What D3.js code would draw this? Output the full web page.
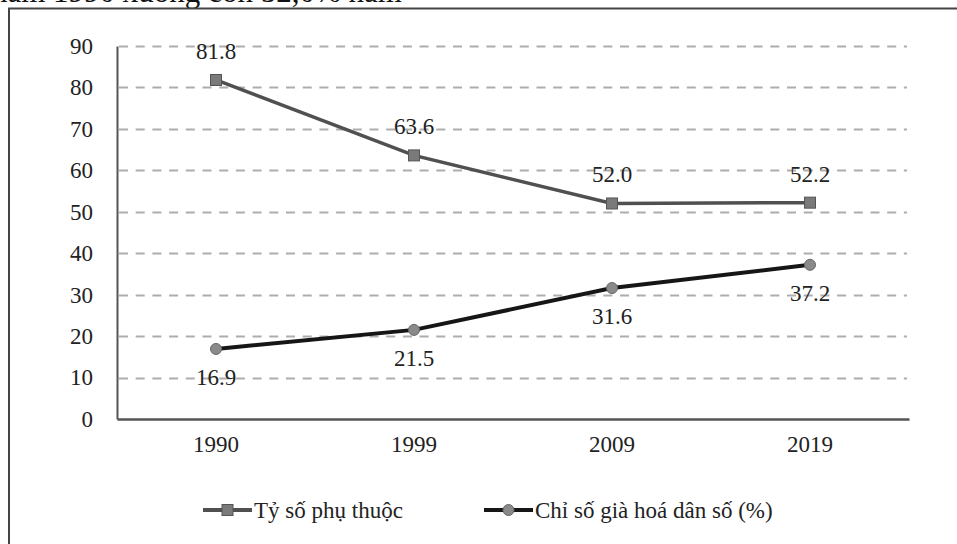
<!DOCTYPE html>
<html>
<head>
<meta charset="utf-8">
<script src="https://cdn.jsdelivr.net/npm/d3@7"></script>
<style>
  body { margin: 0; background: #fff; overflow: hidden; }
</style>
</head>
<body>
<script>
// data
let years = ["1990", "1999", "2009", "2019"];
let tySoPhuThuoc = [81.8, 63.6, 52.0, 52.2];
let chiSoGiaHoa = [16.9, 21.5, 31.6, 37.2];
let yTicks = [0, 10, 20, 30, 40, 50, 60, 70, 80, 90];
let seriesNames = ["Tỷ số phụ thuộc", "Chỉ số già hoá dân số (%)"];

let serif = "Liberation Serif, 'Times New Roman', 'DejaVu Serif', serif";
let fs = 23;

let svg = d3.select("body").append("svg")
	.attr("width", 957)
	.attr("height", 544)
	.attr("font-family", serif);

//clipped line of text from the page above the figure
svg.append("text")
	.attr("x", -8)
	.attr("y", 2)
	.attr("font-size", 31)
	.attr("font-family", serif)
	.attr("fill", "#111")
	.text("năm 1990 xuống còn 52,0% năm");

//outer frame
svg.append("path")
	.attr("d", "M9,560 V8.5 H970")
	.attr("fill", "none")
	.attr("stroke", "#444")
	.attr("stroke-width", 2);

let margin = { top: 46, left: 117 };
let innerWidth = 909 - 117;
let innerHeight = 419 - 46;

let g = svg.append("g")
	.attr("transform", `translate(${margin.left}, ${margin.top})`);

let x = d3.scaleBand()
	.domain(years)
	.range([0, innerWidth]);

let y = d3.scaleLinear()
	.domain([0, 90])
	.range([innerHeight, 0]);

//dashed grid
g.selectAll(".grid")
	.data(yTicks.filter(d => d > 0))
	.enter().append("line")
	.attr("class", "grid")
	.attr("x1", 2)
	.attr("x2", innerWidth - 2)
	.attr("y1", d => Math.round(y(d)) + 0.5)
	.attr("y2", d => Math.round(y(d)) + 0.5)
	.attr("stroke", "#adadad")
	.attr("stroke-width", 2)
	.attr("stroke-dasharray", "9,7.7");

//y axis
let yG = g.append("g")
	.call(d3.axisLeft(y).tickValues(yTicks).tickSize(0).tickPadding(24))
	.attr("font-family", serif)
	.attr("font-size", fs);
yG.select(".domain").attr("stroke", "#555").attr("stroke-width", 2);
yG.selectAll("text").attr("fill", "#222");

//x axis
let xG = g.append("g")
	.attr("transform", `translate(0, ${innerHeight})`)
	.call(d3.axisBottom(x).tickSize(0).tickPadding(17))
	.attr("font-family", serif)
	.attr("font-size", fs);
xG.select(".domain").attr("stroke", "#555").attr("stroke-width", 2.5);
xG.selectAll("text").attr("fill", "#222");

let cx = d => x(d) + x.bandwidth() / 2;

let line = d3.line()
	.x((d, i) => cx(years[i]))
	.y(d => y(d));

//line 1 - dependency ratio
g.append("path")
	.datum(tySoPhuThuoc)
	.attr("fill", "none")
	.attr("stroke", "#505050")
	.attr("stroke-width", 3.5)
	.attr("d", line);

//line 2 - ageing index
g.append("path")
	.datum(chiSoGiaHoa)
	.attr("fill", "none")
	.attr("stroke", "#161616")
	.attr("stroke-width", 4)
	.attr("d", line);

g.selectAll(".sq")
	.data(tySoPhuThuoc)
	.enter().append("rect")
	.attr("x", (d, i) => cx(years[i]) - 5.5)
	.attr("y", d => y(d) - 5.5)
	.attr("width", 11)
	.attr("height", 11)
	.attr("fill", "#7a7a7a")
	.attr("stroke", "#555")
	.attr("stroke-width", 1);

g.selectAll(".dot")
	.data(chiSoGiaHoa)
	.enter().append("circle")
	.attr("cx", (d, i) => cx(years[i]))
	.attr("cy", d => y(d))
	.attr("r", 5.5)
	.attr("fill", "#8a8a8a")
	.attr("stroke", "#666")
	.attr("stroke-width", 1);

//value labels
g.selectAll(".lab1")
	.data(tySoPhuThuoc)
	.enter().append("text")
	.attr("x", (d, i) => cx(years[i]))
	.attr("y", d => y(d) - 21)
	.attr("text-anchor", "middle")
	.attr("font-size", fs)
	.attr("fill", "#222")
	.text(d => d.toFixed(1));

g.selectAll(".lab2")
	.data(chiSoGiaHoa)
	.enter().append("text")
	.attr("x", (d, i) => cx(years[i]))
	.attr("y", d => y(d) + 36)
	.attr("text-anchor", "middle")
	.attr("font-size", fs)
	.attr("fill", "#222")
	.text(d => d.toFixed(1));

//legend
let legend = svg.append("g");
let legendItems = [
	{ name: seriesNames[0], x: 203, stroke: "#505050", shape: "square" },
	{ name: seriesNames[1], x: 484, stroke: "#161616", shape: "circle" }
];
let ly = 510;
legendItems.forEach(function(it) {
	legend.append("line")
		.attr("x1", it.x).attr("x2", it.x + 49)
		.attr("y1", ly).attr("y2", ly)
		.attr("stroke", it.stroke)
		.attr("stroke-width", 4);
	if (it.shape === "square") {
		legend.append("rect")
			.attr("x", it.x + 24.5 - 5.5).attr("y", ly - 5.5)
			.attr("width", 11).attr("height", 11)
			.attr("fill", "#7a7a7a").attr("stroke", "#555");
	} else {
		legend.append("circle")
			.attr("cx", it.x + 24.5).attr("cy", ly).attr("r", 5.5)
			.attr("fill", "#8a8a8a").attr("stroke", "#666");
	}
	legend.append("text")
		.attr("x", it.x + 51)
		.attr("y", ly + 8)
		.attr("font-size", fs)
		.attr("fill", "#222")
		.text(it.name);
});
</script>
</body>
</html>
